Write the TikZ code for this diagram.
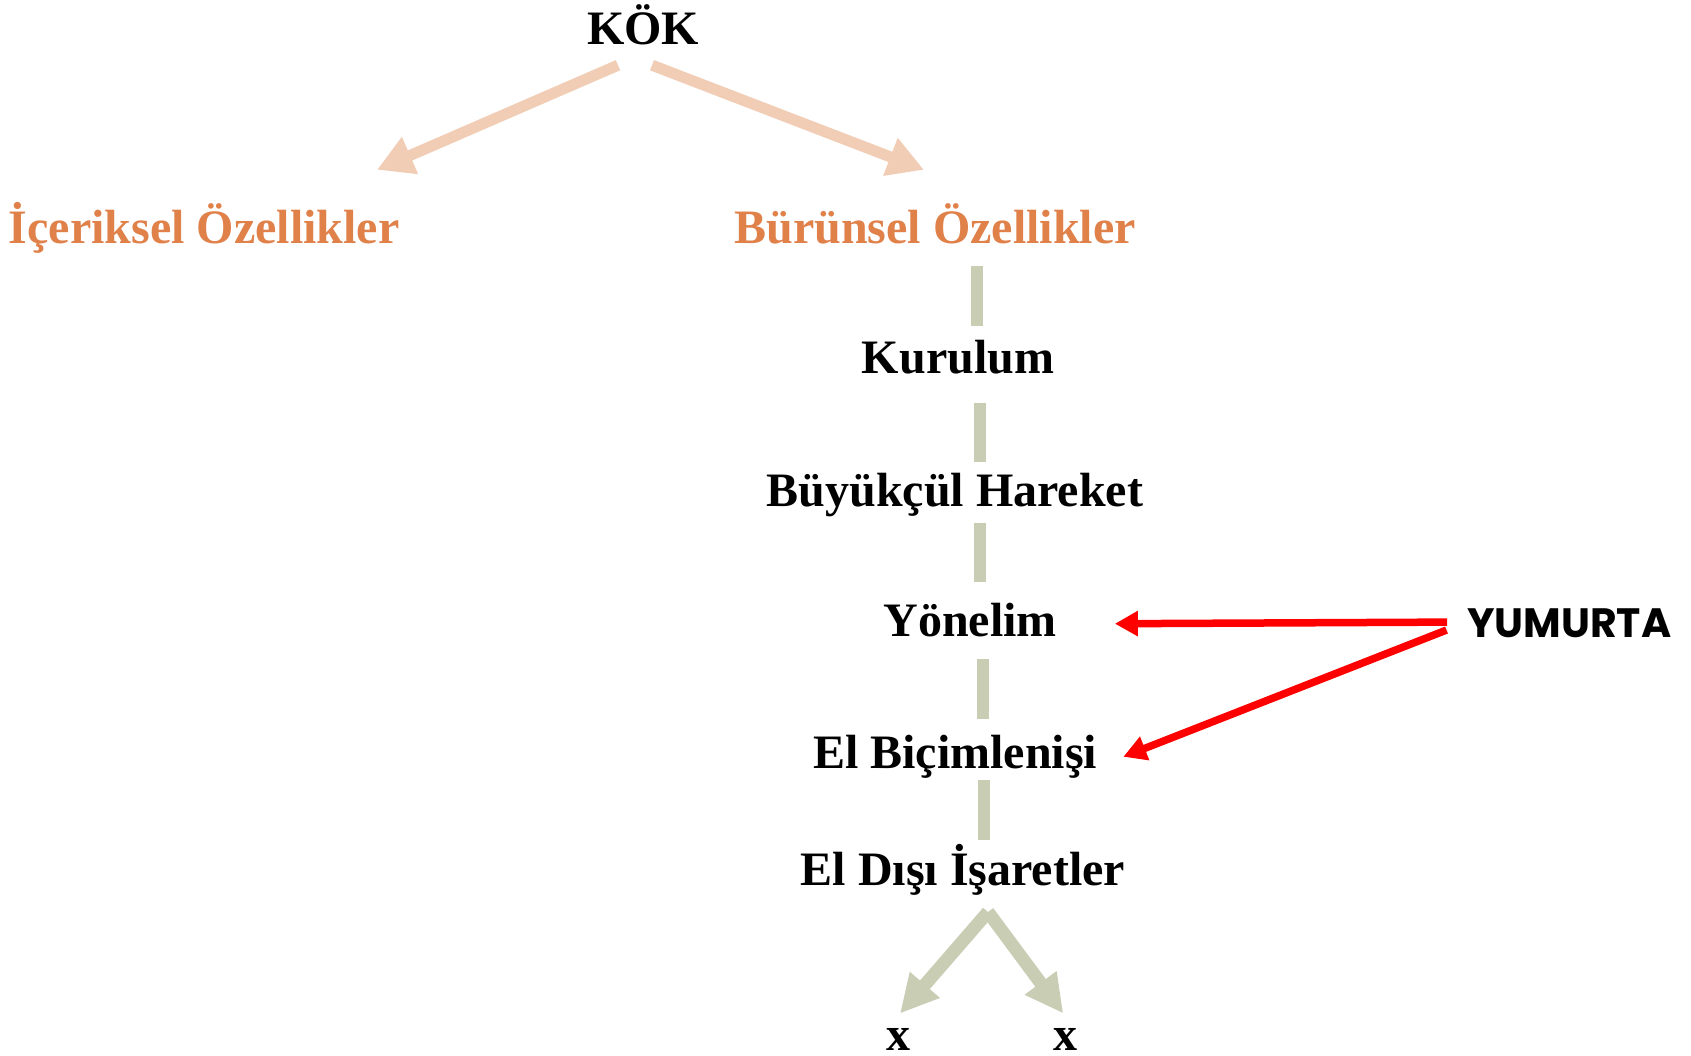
\documentclass[tikz,border=0pt]{standalone}
\usepackage{fontspec}
\setmainfont{Liberation Serif}
\newfontfamily\gothic{Poppins}
\usetikzlibrary{arrows.meta}
\definecolor{orangetxt}{RGB}{224,129,74}
\definecolor{peach}{RGB}{240,205,180}
\definecolor{sage}{RGB}{201,205,180}
\begin{document}
\begin{tikzpicture}[x=1pt,y=-1pt,
  lbl/.style={font=\fontsize{48}{48}\selectfont\bfseries, inner sep=0pt, text height=34pt, text depth=10pt, anchor=base},
  olbl/.style={lbl, text=orangetxt},
  peacharrow/.style={draw=peach, line width=11pt, -{Triangle[length=36pt,width=38pt]}},
  sagebar/.style={draw=sage, line width=12pt},
  sagearrow/.style={draw=sage, line width=13pt, -{Triangle[length=38pt,width=37pt]}},
  redarrow/.style={draw=red, line width=7.5pt, -{Triangle[length=23pt,width=24pt]}}
]
\useasboundingbox[fill=white] (0,0) rectangle (1691,1055);

\node[lbl] (kok) at (643,44) {KÖK};
\node[olbl] (ice) at (204,243) {İçeriksel Özellikler};
\node[olbl] (bur) at (935,243) {Bürünsel Özellikler};
\node[lbl] (kur) at (958,373) {Kurulum};
\node[lbl] (buy) at (955,506) {Büyükçül Hareket};
\node[lbl] (yon) at (970,636) {Yönelim};
\node[lbl] (elb) at (955,768) {El Biçimlenişi};
\node[lbl] (eld) at (963,885) {El Dışı İşaretler};
\node[lbl] (x1) at (898,1050) {x};
\node[lbl] (x2) at (1065,1050) {x};
\node[font=\gothic\bfseries\fontsize{41}{41}\selectfont, inner sep=0pt, text height=30pt, text depth=0pt, anchor=base west] (yum) at (1467,637) {YUMURTA};

% peach arrows from root
\draw[peacharrow] ([xshift=-25pt,yshift=-11pt]kok.south) -- ([xshift=173pt,yshift=39pt]ice.north);
\draw[peacharrow] ([xshift=9pt,yshift=-11pt]kok.south) -- ([xshift=-11pt,yshift=39pt]bur.north);

% sage bars
\draw[sagebar, shorten <=13pt, shorten >=13pt] (bur.south -| 977,0) -- (kur.north -| 977,0);
\draw[sagebar, shorten <=20pt, shorten >=10pt] (kur.south -| 980,0) -- (buy.north -| 980,0);
\draw[sagebar, shorten <=7pt, shorten >=20pt] (buy.south -| 980,0) -- (yon.north -| 980,0);
\draw[sagebar, shorten <=13pt, shorten >=15pt] (yon.south -| 983,0) -- (elb.north -| 983,0);
\draw[sagebar, shorten <=2pt, shorten >=11pt] (elb.south -| 984,0) -- (eld.north -| 984,0);

% sage split arrows
\coordinate (split) at (988,912);
\draw[sagearrow, shorten >=3pt] (split) -- (x1.north);
\draw[sagearrow, shorten >=3pt] (split) -- (x2.north);

% red arrows
\draw[redarrow, shorten <=20pt, shorten >=58pt] (yum.west) -- (yon.east);
\draw[redarrow, shorten <=22pt, shorten >=28pt] (yum.west) -- ([yshift=-11pt]elb.east);
\end{tikzpicture}
\end{document}
